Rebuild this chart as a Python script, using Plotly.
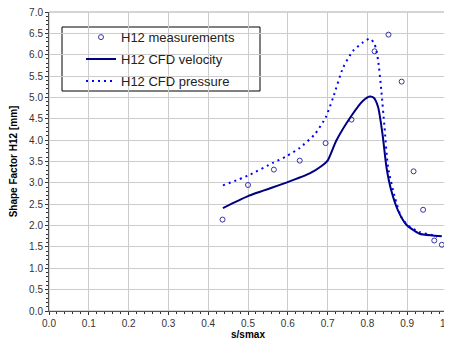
import plotly.graph_objects as go

meas_s = [0.436, 0.500, 0.565, 0.630, 0.695, 0.760, 0.818, 0.853, 0.886, 0.916, 0.940, 0.968, 0.987]
meas_h = [2.14, 2.95, 3.31, 3.52, 3.93, 4.48, 6.08, 6.47, 5.37, 3.27, 2.37, 1.65, 1.55]

vel_s = [0.437, 0.500, 0.598, 0.655, 0.684, 0.700, 0.722, 0.760, 0.789, 0.806, 0.816, 0.827, 0.838, 0.848, 0.860, 0.877, 0.898, 0.931, 0.965, 0.987]
vel_h = [2.41, 2.69, 3.01, 3.22, 3.39, 3.52, 3.99, 4.57, 4.92, 5.02, 4.99, 4.77, 4.14, 3.36, 2.82, 2.35, 2.02, 1.81, 1.77, 1.75]

pre_s = [0.437, 0.500, 0.563, 0.596, 0.630, 0.668, 0.695, 0.714, 0.739, 0.764, 0.789, 0.806, 0.818, 0.827, 0.835, 0.843, 0.852, 0.869, 0.885, 0.902, 0.931, 0.965, 0.975]
pre_h = [2.94, 3.17, 3.47, 3.62, 3.82, 4.14, 4.53, 5.00, 5.70, 6.09, 6.29, 6.38, 6.25, 5.86, 5.16, 4.30, 3.36, 2.66, 2.20, 2.00, 1.85, 1.77, 1.74]

x_ticks = [0.0, 0.1, 0.2, 0.3, 0.4, 0.5, 0.6, 0.7, 0.8, 0.9, 1.0]
x_labels = ["0.0", "0.1", "0.2", "0.3", "0.4", "0.5", "0.6", "0.7", "0.8", "0.9", "1.0"]

fig = go.Figure()
fig.add_trace(go.Scatter(x=meas_s, y=meas_h, mode="markers", name="H12 measurements",
                         legendgroup="a",
                         marker=dict(symbol="circle-open", size=5, color="#3333aa", line=dict(width=1))))
fig.add_trace(go.Scatter(x=vel_s, y=vel_h, mode="lines", name="H12 CFD velocity",
                         legendgroup="b",
                         line=dict(color="#000080", width=2, shape="spline", smoothing=0.6)))
fig.add_trace(go.Scatter(x=pre_s, y=pre_h, mode="lines", name="H12 CFD pressure",
                         legendgroup="c",
                         line=dict(color="#0000ff", width=2, shape="spline", smoothing=0.6, dash="2px,4px")))

tickfont = dict(family="Liberation Sans, Arial, sans-serif", size=10, color="#333333")
titlefont = dict(family="Liberation Sans, Arial, sans-serif", size=10, color="#000000", weight="bold")

fig.update_layout(
    width=444, height=338,
    margin=dict(l=41, r=5, t=4, b=35),
    paper_bgcolor="white", plot_bgcolor="white",
    showlegend=True,
    legend=dict(x=0.0804, y=0.966, xanchor="left", yanchor="top",
                bgcolor="rgba(0,0,0,0)", borderwidth=0,
                font=dict(family="Liberation Sans, Arial, sans-serif", size=13, color="#222222"),
                itemwidth=30, tracegroupgap=2),
    xaxis=dict(range=[0, 1.0], tickvals=x_ticks, ticktext=x_labels, tickfont=tickfont,
               ticklabeloverflow="allow",
               showgrid=True, gridcolor="#cccccc", gridwidth=1,
               showline=True, linecolor="#555555", linewidth=1, mirror=False,
               ticks="outside", ticklen=3, tickcolor="#333333",
               minor=dict(dtick=0.02, ticks="outside", ticklen=2, tickcolor="#333333", showgrid=False),
               title=dict(text="s/smax", font=titlefont, standoff=2),
               zeroline=False, automargin=False),
    yaxis=dict(range=[0, 7.0], dtick=0.5, tickformat=".1f", tickfont=tickfont,
               ticklabeloverflow="allow",
               showgrid=True, gridcolor="#cccccc", gridwidth=1,
               showline=True, linecolor="#555555", linewidth=1, mirror=False,
               ticks="outside", ticklen=3, tickcolor="#333333",
               minor=dict(dtick=0.1, ticks="outside", ticklen=2, tickcolor="#333333", showgrid=False),
               title=dict(text="Shape Factor H12 [mm]", font=titlefont, standoff=12),
               zeroline=False, automargin=False),
)
fig.add_shape(type="rect", xref="paper", yref="paper", x0=0, y0=0, x1=1, y1=1,
              line=dict(color="#aaaaaa", width=1), layer="below")
# legend frame
fig.add_shape(type="rect", xref="paper", yref="paper",
              x0=(62 - 49) / 398, x1=(260 - 49) / 398,
              y0=(311 - 91) / 299, y1=(311 - 27) / 299,
              line=dict(color="#000000", width=1), fillcolor="white", layer="between")
fig.write_html("out.html")
